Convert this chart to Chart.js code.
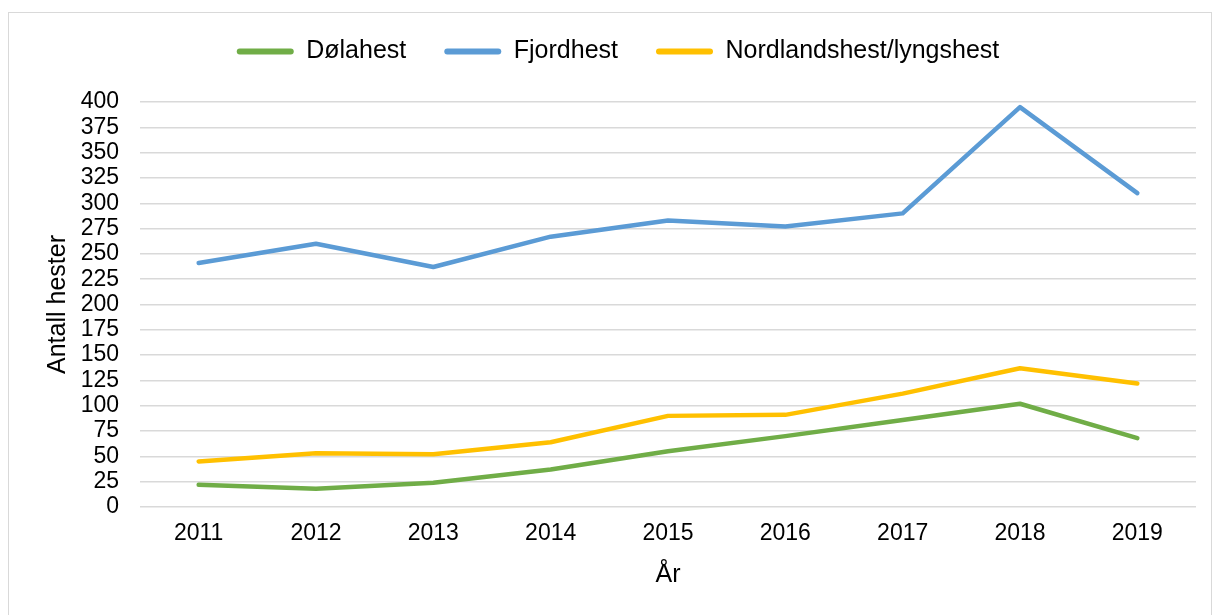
<!DOCTYPE html>
<html><head><meta charset="utf-8">
<script src="https://cdn.jsdelivr.net/npm/chart.js@4"></script>
<style>
html,body{margin:0;padding:0;background:#fff;}
#wrap{position:relative;width:1214px;height:615px;overflow:hidden;background:#fff;}
#frame{position:absolute;left:8px;top:12px;width:1204px;height:640px;border:1px solid #d9d9d9;box-sizing:border-box;}
canvas{position:absolute;left:0;top:0;}
</style></head><body>
<div id="wrap"><div id="frame"></div><canvas id="c" width="1214" height="615"></canvas></div>
<script>
const years = ['2011','2012','2013','2014','2015','2016','2017','2018','2019'];
const dolahest = [22, 18, 24, 37, 55, 70, 86, 102, 68];
const fjordhest = [241, 260, 237, 267, 283, 277, 290, 395, 310];
const nordland = [45, 53, 52, 64, 90, 91, 112, 137, 122];
const seriesNames = ['Dølahest', 'Fjordhest', 'Nordlandshest/lyngshest'];
const colors = ['#70AD47', '#5B9BD5', '#FFC000'];

const FONT = "'Liberation Sans', Arial, sans-serif";

const legendHeightPlugin = {
  id: 'legendHeight',
  afterInit(chart) {
    const lg = chart.legend;
    if (!lg) return;
    const origFit = lg.fit;
    lg.fit = function() { origFit.call(this); this.height = 102; };
    const origDraw = lg.draw;
    lg.draw = function() {
      const ctx = this.ctx;
      ctx.save();
      ctx.translate(20, 1);
      origDraw.apply(this, arguments);
      ctx.restore();
    };
  }
};

function ds(label, data, color) {
  return {
    label, data,
    borderColor: color, backgroundColor: color,
    borderWidth: 4.5, pointRadius: 0, pointHoverRadius: 0,
    tension: 0, borderCapStyle: 'round', borderJoinStyle: 'round', fill: false
  };
}

new Chart(document.getElementById('c'), {
  type: 'line',
  data: {
    labels: years,
    datasets: [
      ds(seriesNames[0], dolahest, colors[0]),
      ds(seriesNames[1], fjordhest, colors[1]),
      ds(seriesNames[2], nordland, colors[2])
    ]
  },
  plugins: [legendHeightPlugin],
  options: {
    responsive: false,
    animation: false,
    devicePixelRatio: 1,
    layout: { padding: { left: 0, right: 18, top: 0, bottom: 0 } },
    plugins: {
      tooltip: { enabled: false },
      legend: {
        position: 'top',
        labels: {
          font: { family: FONT, size: 25 },
          color: '#000',
          padding: 38,
          boxWidth: 57,
          boxHeight: 6,
          generateLabels(chart) {
            return chart.data.datasets.map((d, i) => ({
              text: d.label, fillStyle: d.borderColor, strokeStyle: d.borderColor,
              lineWidth: 0, borderRadius: 3, datasetIndex: i, fontColor: '#000'
            }));
          }
        }
      }
    },
    scales: {
      x: {
        offset: true,
        grid: { display: false, drawTicks: false },
        border: { display: false },
        ticks: { font: { family: FONT, size: 23 }, color: '#000', padding: 13, maxRotation: 0, autoSkip: false },
        title: { display: true, text: 'År', font: { family: FONT, size: 25 }, color: '#000', padding: { top: 0, bottom: 25 } },
        afterFit(s) { s.height = 108; }
      },
      y: {
        min: 0, max: 400,
        grid: { color: '#d9d9d9', lineWidth: 1.5, drawTicks: false },
        border: { display: false },
        ticks: { stepSize: 25, font: { family: FONT, size: 23 }, color: '#000', padding: 21, autoSkip: false },
        title: { display: true, text: 'Antall hester', font: { family: FONT, size: 25 }, color: '#000', padding: { top: 43, bottom: 0 } },
        afterFit(s) { s.width = 140; }
      }
    }
  }
});
</script>
</body></html>
